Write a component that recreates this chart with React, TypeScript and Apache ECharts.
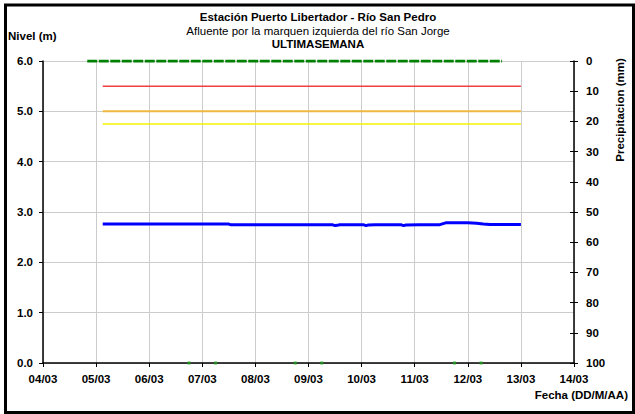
import React, { useEffect, useRef } from "react";
import * as echarts from "echarts";

const dayLabels = ["04/03", "05/03", "06/03", "07/03", "08/03", "09/03", "10/03", "11/03", "12/03", "13/03", "14/03"];

// hours since 04/03 00:00
const levelHours = [27, 40, 60, 84, 85, 100, 120, 131, 132, 133, 134, 140, 145, 146, 147, 150, 156, 162, 163, 164, 170, 179, 182, 188, 192, 196, 199, 202, 210, 216];
const levelValues = [2.76, 2.76, 2.76, 2.76, 2.745, 2.745, 2.745, 2.745, 2.73, 2.735, 2.745, 2.745, 2.745, 2.73, 2.74, 2.745, 2.745, 2.745, 2.73, 2.74, 2.745, 2.745, 2.785, 2.785, 2.785, 2.775, 2.76, 2.75, 2.75, 2.75];

const thresholdSpan = [27, 216];
const thresholdRed = 5.5;
const thresholdOrange = 5.0;
const thresholdYellow = 4.75;

const precipHours = [20, 60, 100, 140, 180, 207.5];
const precipValues = [0, 0, 0, 0, 0, 0];

const markHours = [66, 78, 114, 126, 186, 198];
const markValues = [0, 0, 0, 0, 0, 0];

const FONT = "Liberation Sans";

export default function App() {
  const ref = useRef<HTMLDivElement>(null);
  useEffect(() => {
    if (!ref.current) return;
    const chart = echarts.init(ref.current, null, { renderer: "svg" });
    const axisLabel = { fontFamily: FONT, fontWeight: "bold", fontSize: 11.5, color: "#000" };
    const pairs = (xs: number[], ys: number[]) => xs.map((x, i) => [x, ys[i]]);
    const thr = (v: number) => thresholdSpan.map((h) => [h, v]);
    chart.setOption({
      animation: false,
      backgroundColor: "#fff",
      grid: { left: 43, right: 61, top: 61, bottom: 51 },
      xAxis: {
        type: "value",
        min: 0,
        max: 240,
        interval: 24,
        axisLine: { lineStyle: { color: "#000", width: 1.5 } },
        axisTick: { length: 4, lineStyle: { color: "#000" } },
        axisLabel: { ...axisLabel, margin: 10, formatter: (v: number) => dayLabels[Math.round(v / 24)] ?? "" },
        splitLine: { show: true, lineStyle: { color: "#cccccc", width: 1 } },
      },
      yAxis: [
        {
          type: "value",
          min: 0,
          max: 6,
          interval: 1,
          axisLine: { show: true, lineStyle: { color: "#000", width: 1.5 } },
          axisTick: { show: true, length: 4, lineStyle: { color: "#000" } },
          axisLabel: { ...axisLabel, margin: 10, formatter: (v: number) => v.toFixed(1) },
          splitLine: { show: true, lineStyle: { color: "#cccccc", width: 1 } },
        },
        {
          type: "value",
          min: 0,
          max: 100,
          interval: 10,
          inverse: true,
          position: "right",
          axisLine: { show: true, lineStyle: { color: "#000", width: 1.5 } },
          axisTick: { show: true, length: 4, lineStyle: { color: "#000" } },
          axisLabel: { ...axisLabel, margin: 12 },
          splitLine: { show: false },
        },
        {
          type: "value",
          min: 0,
          max: 100,
          interval: 10,
          inverse: true,
          position: "right",
          axisLine: { show: false },
          axisTick: { show: true, inside: true, length: 4, lineStyle: { color: "#000" } },
          axisLabel: { show: false },
          splitLine: { show: false },
        },
      ],
      graphic: [
        { type: "rect", shape: { x: 5.5, y: 5, width: 628, height: 407.5 }, style: { fill: "none", stroke: "#000", lineWidth: 3 } },
        { type: "text", x: 318, y: 17, style: { text: "Estación Puerto Libertador - Río San Pedro", font: `bold 11.5px "${FONT}"`, fill: "#000", align: "center", verticalAlign: "middle" } },
        { type: "text", x: 318, y: 31, style: { text: "Afluente por la marquen izquierda del río San Jorge", font: `11.5px "${FONT}"`, fill: "#000", align: "center", verticalAlign: "middle" } },
        { type: "text", x: 318, y: 44, style: { text: "ULTIMASEMANA", font: `bold 11.5px "${FONT}"`, fill: "#000", align: "center", verticalAlign: "middle" } },
        { type: "text", x: 8, y: 36, style: { text: "Nivel (m)", font: `bold 11.5px "${FONT}"`, fill: "#000", align: "left", verticalAlign: "middle" } },
        { type: "text", x: 628, y: 395, style: { text: "Fecha (DD/M/AA)", font: `bold 11.5px "${FONT}"`, fill: "#000", align: "right", verticalAlign: "middle" } },
        { type: "text", x: 620, y: 110, rotation: Math.PI / 2, style: { text: "Precipitacion (mm)", font: `bold 11.5px "${FONT}"`, fill: "#000", align: "center", verticalAlign: "middle" } },
      ],
      series: [
        {
          type: "line",
          yAxisIndex: 1,
          data: pairs(precipHours, precipValues),
          symbol: "none",
          lineStyle: { color: "#008000", width: 3, type: [10, 1.5] },
          z: 3,
        },
        { type: "line", data: thr(thresholdRed), symbol: "none", lineStyle: { color: "#f04040", width: 1.5 } },
        { type: "line", data: thr(thresholdOrange), symbol: "none", lineStyle: { color: "#f0b840", width: 2 } },
        { type: "line", data: thr(thresholdYellow), symbol: "none", lineStyle: { color: "#f5f500", width: 1.5 } },
        { type: "line", data: pairs(levelHours, levelValues), symbol: "none", lineStyle: { color: "#0000ff", width: 3 } },
        {
          type: "scatter",
          data: pairs(markHours, markValues),
          symbol: "rect",
          symbolSize: 3,
          itemStyle: { color: "#20a020" },
          z: 5,
        },
      ],
    });
    return () => chart.dispose();
  }, []);
  return <div ref={ref} style={{ position: "fixed", left: 0, top: 0, width: 635, height: 414 }} />;
}
